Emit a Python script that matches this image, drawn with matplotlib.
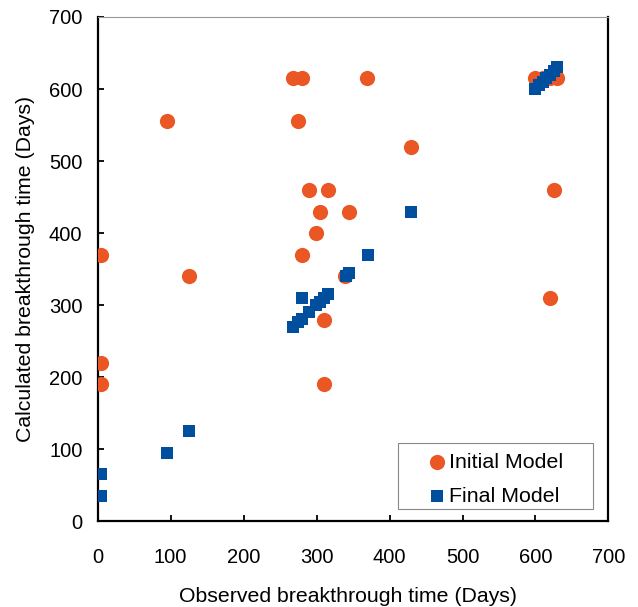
import matplotlib.pyplot as plt
from matplotlib.patches import Rectangle

plt.rcParams['font.family'] = ['Liberation Sans', 'DejaVu Sans']

# Initial model (orange circles)
init_obs = [268, 280, 369, 600, 610, 620, 630, 95, 275, 430, 290, 315, 625,
            304, 345, 299, 280, 5, 125, 339, 620, 310, 5, 5, 310]
init_calc = [615, 615, 615, 615, 615, 615, 615, 555, 555, 520, 460, 460, 460,
             430, 430, 400, 370, 370, 340, 340, 310, 280, 220, 190, 190]

# Final model (blue squares)
final_obs = [5, 5, 95, 125, 268, 275, 280, 290, 299, 304, 310, 315, 280,
             340, 345, 370, 430, 600, 605, 610, 615, 620, 625, 630]
final_calc = [35, 65, 95, 125, 270, 276, 281, 290, 300, 305, 310, 315, 310,
              340, 345, 370, 430, 600, 605, 610, 615, 620, 625, 630]

ticks = [0, 100, 200, 300, 400, 500, 600, 700]

fig = plt.figure(figsize=(6.38, 6.07), dpi=100)
ax = fig.add_axes([0.1531, 0.1412, 0.8006, 0.8308])

ax.scatter(init_obs, init_calc, s=120, marker='o', color='#EB5724',
           linewidths=0, label='Initial Model', zorder=3)
ax.scatter(final_obs, final_calc, s=72, marker='s', color='#004F9F',
           linewidths=0, label='Final Model', zorder=4)

ax.set_xlim(0, 700)
ax.set_ylim(0, 700)
ax.set_xticks(ticks)
ax.set_yticks(ticks)

# frame: black left/bottom/right, thin grey top
for side in ['left', 'bottom', 'right']:
    ax.spines[side].set_linewidth(1.6)
    ax.spines[side].set_color('black')
ax.spines['top'].set_linewidth(0.8)
ax.spines['top'].set_color('#999999')

ax.tick_params(axis='x', direction='in', length=4.5, width=1.3,
               labelsize=14.5, pad=19)
ax.tick_params(axis='y', direction='in', length=4.5, width=1.3,
               labelsize=14.5, pad=11)

ax.set_xlabel('Observed breakthrough time (Days)', fontsize=15.3)
ax.set_ylabel('Calculated breakthrough time (Days)', fontsize=15.3)
ax.xaxis.set_label_coords(0.49, -0.150)
ax.xaxis.label.set_va('center')
ax.yaxis.set_label_coords(-0.142, 0.5)
ax.yaxis.label.set_va('center')

# legend box drawn by hand, entries placed inside it
ax.add_patch(Rectangle((0.588, 0.0244), 0.382, 0.1306, transform=ax.transAxes,
                       facecolor='white', edgecolor='#888888', linewidth=0.8,
                       zorder=5))
leg = ax.legend(loc='center left', bbox_to_anchor=(0.648, 0.083), fontsize=15.4,
                frameon=False, handletextpad=0.13, handlelength=0.8,
                borderpad=0, labelspacing=0.7, borderaxespad=0)
leg.set_zorder(6)

fig.savefig('out.png', dpi=100)
